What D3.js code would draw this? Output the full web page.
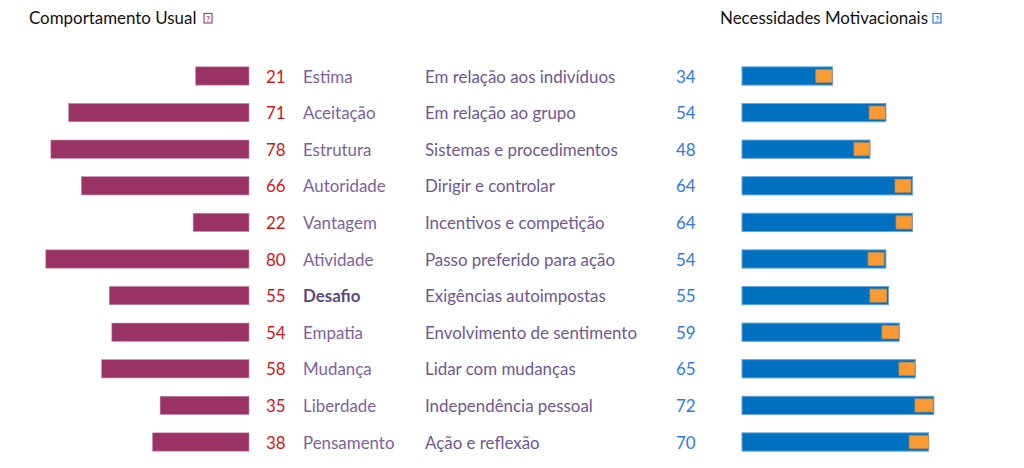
<!DOCTYPE html>
<html>
<head>
<meta charset="utf-8">
<script src="https://cdnjs.cloudflare.com/ajax/libs/d3/7.8.5/d3.min.js"></script>
<style>
  body { margin: 0; background: #fff; }
  text { font-family: Lato, "Open Sans", sans-serif; }
</style>
</head>
<body>
<div id="chart"></div>
<script>
// dados
const fatores = ["Estima", "Aceitação", "Estrutura", "Autoridade", "Vantagem", "Atividade",
  "Desafio", "Empatia", "Mudança", "Liberdade", "Pensamento"];
const descricoes = ["Em relação aos indivíduos", "Em relação ao grupo", "Sistemas e procedimentos",
  "Dirigir e controlar", "Incentivos e competição", "Passo preferido para ação",
  "Exigências autoimpostas", "Envolvimento de sentimento", "Lidar com mudanças",
  "Independência pessoal", "Ação e reflexão"];
const comportamento = [21, 71, 78, 66, 22, 80, 55, 54, 58, 35, 38];
const necessidades = [34, 54, 48, 64, 64, 54, 55, 59, 65, 72, 70];
// marcador laranja (início e fim)
const marcadorIni = [27.7, 47.7, 42.0, 57.4, 57.8, 47.3, 48.0, 52.5, 58.9, 64.9, 62.7];
const marcadorFim = [33.8, 53.7, 48.0, 63.4, 63.8, 53.3, 54.3, 58.9, 64.9, 71.7, 70.1];
const destaque = "Desafio";

const width = 1024, height = 468;
const fonte = "16.9px";

const svg = d3.select("#chart").append("svg")
  .attr("width", width)
  .attr("height", height);

const y = d3.scaleBand()
  .domain(fatores)
  .range([57.7, 460.3])
  .paddingInner(0.5)
  .paddingOuter(0.25);

const xEsq = d3.scaleLinear().domain([0, 100]).range([249, -5]);
const xDir = d3.scaleLinear().domain([0, 100]).range([742, 1008.5]);

const rows = fatores.map((f, i) => ({
  fator: f, desc: descricoes[i], comp: comportamento[i], nec: necessidades[i],
  mIni: marcadorIni[i], mFim: marcadorFim[i]
}));

// títulos
svg.append("text").attr("x", 29).attr("y", 23.5)
  .style("font-size", fonte).style("fill", "#111")
  .text("Comportamento Usual");
svg.append("text").attr("x", 720).attr("y", 23.5)
  .style("font-size", fonte).style("fill", "#111")
  .text("Necessidades Motivacionais");

function icone(x, cor) {
  const g = svg.append("g").attr("transform", `translate(${x},13.5)`);
  g.append("rect").attr("width", 8).attr("height", 9.5)
    .attr("fill", "#fff").attr("stroke", cor).attr("stroke-width", 1.2);
  g.append("text").attr("x", 4).attr("y", 8).attr("text-anchor", "middle")
    .style("font-size", "8px").style("font-weight", "bold").style("fill", cor).text("?");
}
icone(204, "#a2457c");
icone(933, "#2f7ae5");

// barras da esquerda
svg.append("g").selectAll("rect")
  .data(rows)
  .join("rect")
  .attr("x", d => xEsq(d.comp))
  .attr("y", d => y(d.fator))
  .attr("width", d => xEsq(0) - xEsq(d.comp))
  .attr("height", y.bandwidth())
  .attr("fill", "#993366")
  .attr("stroke", "#c58aa8")
  .attr("stroke-width", 0.6);

// barras da direita
svg.append("g").selectAll("rect")
  .data(rows)
  .join("rect")
  .attr("x", xDir(0))
  .attr("y", d => y(d.fator))
  .attr("width", d => xDir(d.nec) - xDir(0))
  .attr("height", y.bandwidth())
  .attr("fill", "#0070c0")
  .attr("stroke", "#6aa6dc")
  .attr("stroke-width", 1);

// marcadores laranja
svg.append("g").selectAll("rect")
  .data(rows)
  .join("rect")
  .attr("x", d => xDir(d.mIni))
  .attr("y", d => y(d.fator) + 2.6)
  .attr("width", d => xDir(d.mFim) - xDir(d.mIni))
  .attr("height", y.bandwidth() - 5.2)
  .attr("fill", "#f99a33")
  .attr("stroke", "#b98a5a")
  .attr("stroke-width", 0.8);

// textos
const linhas = svg.append("g").selectAll("g")
  .data(rows)
  .join("g")
  .attr("transform", d => `translate(0,${y(d.fator) + y.bandwidth() / 2 + 6.6})`)
  .style("font-size", fonte);

linhas.append("text").attr("x", 266)
  .style("fill", "#d0161b")
  .text(d => d.comp);

linhas.append("text").attr("x", 303)
  .style("fill", d => d.fator === destaque ? "#5e4880" : "#7d62a0")
  .style("font-weight", d => d.fator === destaque ? "bold" : "normal")
  .text(d => d.fator);

linhas.append("text").attr("x", 425)
  .style("fill", "#6f5892")
  .text(d => d.desc);

linhas.append("text").attr("x", 676)
  .style("fill", "#2f7ae5")
  .text(d => d.nec);
</script>
</body>
</html>
